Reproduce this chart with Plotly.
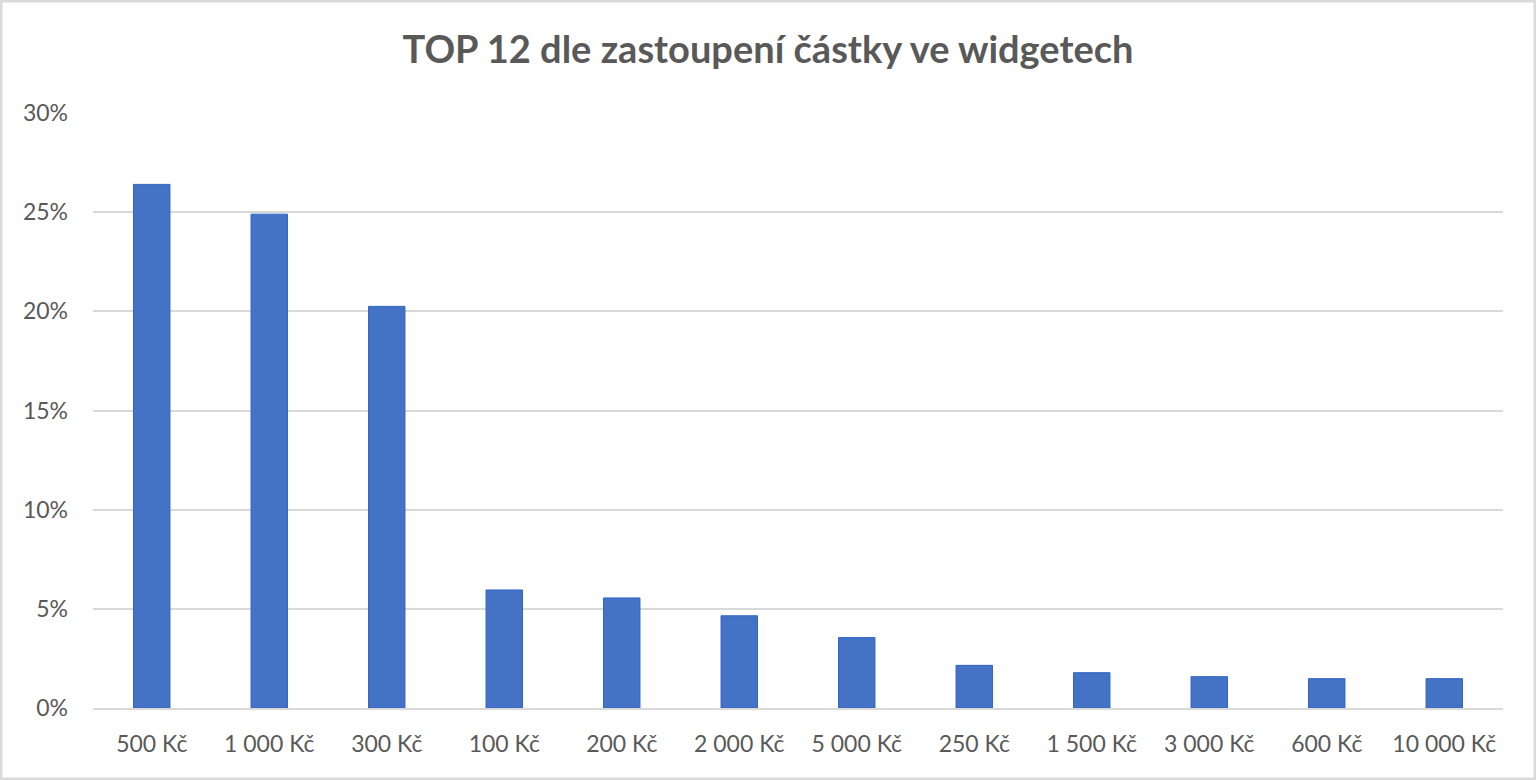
import plotly.graph_objects as go

# kategorie a podíly (v procentech)
categories = ["500 Kč", "1 000 Kč", "300 Kč", "100 Kč", "200 Kč", "2 000 Kč",
              "5 000 Kč", "250 Kč", "1 500 Kč", "3 000 Kč", "600 Kč", "10 000 Kč"]
shares = [26.4, 24.9, 20.25, 5.95, 5.55, 4.65, 3.55, 2.15, 1.78, 1.58, 1.48, 1.48]
y_ticks = [0, 5, 10, 15, 20, 25, 30]
y_tick_labels = ["0%", "5%", "10%", "15%", "20%", "25%", "30%"]

BAR_COLOR = "#4472C4"
TEXT_COLOR = "#595959"
GRID_COLOR = "#D9D9D9"
FONT = "Lato"

fig = go.Figure()
fig.add_trace(go.Bar(
    x=categories, y=shares,
    marker=dict(color=BAR_COLOR, line=dict(color="#2F64C8", width=1)),
    hovertemplate="%{x}: %{y}%<extra></extra>",
))

fig.update_layout(
    width=1536, height=780,
    margin=dict(l=93, r=33, t=113, b=72),
    paper_bgcolor="white", plot_bgcolor="white",
    bargap=0.69,
    showlegend=False,
    title=dict(
        text="<b>TOP 12 dle zastoupení částky ve widgetech</b>",
        x=0.5, xanchor="center", y=0.936, yanchor="middle",
        font=dict(family=FONT, size=38, color=TEXT_COLOR),
    ),
    font=dict(family=FONT, color=TEXT_COLOR),
    xaxis=dict(
        showgrid=False, showline=True, linecolor=GRID_COLOR, linewidth=2,
        tickfont=dict(size=23, color=TEXT_COLOR), ticks="", ticklabelstandoff=14,
    ),
    yaxis=dict(
        range=[0, 30], tickvals=y_ticks, ticktext=y_tick_labels,
        showgrid=True, gridcolor=GRID_COLOR, gridwidth=2,
        zeroline=False, showline=False,
        tickfont=dict(size=23, color=TEXT_COLOR), ticks="", ticklabelstandoff=24,
    ),
    shapes=[dict(type="rect", xref="paper", yref="paper",
                 x0=-93 / 1410, x1=1 + 33 / 1410, y0=-72 / 595, y1=1 + 113 / 595,
                 line=dict(color=GRID_COLOR, width=5))],
)

fig.write_html("out.html", config={"displayModeBar": False},
               post_script="document.body.style.margin='0';")
